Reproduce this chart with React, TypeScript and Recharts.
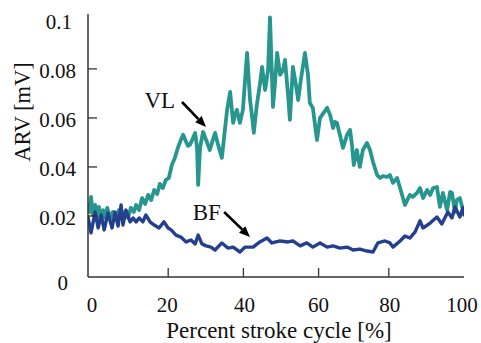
import React from 'react';
import { LineChart, Line, XAxis, YAxis, ReferenceLine, ReferenceDot, Label } from 'recharts';

// Percent stroke cycle positions and ARV values (mV) for VL
const vlCycle = [0, 0.5, 0.8, 1.3, 1.9, 2.4, 2.9, 3.5, 4.0, 4.5, 5.1, 5.9, 6.6, 7.4, 8.2, 9.0, 9.8, 10.6, 11.4, 12.2, 12.8, 13.6, 14.4, 15.2, 16.0, 16.8, 17.6, 18.4, 19.1, 19.9, 20.7, 21.5, 22.3, 23.1, 23.9, 24.7, 25.3, 26.1, 26.6, 27.1, 27.7, 28.5, 29.0, 29.3, 29.8, 30.6, 31.6, 32.4, 33.2, 33.8, 34.6, 35.6, 36.4, 37.0, 37.8, 38.6, 39.1, 39.6, 40.4, 41.2, 42.3, 43.1, 43.6, 44.1, 44.9, 45.7, 46.3, 47.1, 47.9, 48.4, 49.2, 49.7, 50.3, 51.1, 51.9, 52.4, 53.2, 53.7, 54.5, 55.3, 55.9, 56.6, 57.7, 58.5, 59.0, 59.8, 60.9, 61.7, 62.8, 63.6, 64.4, 65.2, 65.7, 66.2, 67.0, 67.8, 68.9, 69.7, 70.2, 70.7, 71.5, 72.3, 73.1, 74.2, 75.0, 75.8, 76.9, 77.7, 78.5, 79.5, 80.3, 81.1, 82.2, 83.0, 84.3, 85.6, 86.4, 87.5, 88.3, 89.1, 90.2, 91.0, 91.8, 92.8, 93.6, 94.4, 95.5, 96.3, 96.8, 97.6, 98.1, 98.9, 99.5, 100];
const vlArv = [0.0245, 0.0216, 0.0278, 0.0204, 0.0245, 0.0192, 0.0237, 0.0184, 0.0224, 0.0192, 0.0233, 0.0192, 0.0216, 0.0184, 0.0224, 0.0192, 0.0216, 0.0192, 0.0233, 0.0216, 0.0245, 0.0224, 0.0273, 0.0249, 0.0286, 0.0265, 0.0306, 0.029, 0.0331, 0.0314, 0.0347, 0.0355, 0.0408, 0.0437, 0.0478, 0.051, 0.0531, 0.0502, 0.0486, 0.049, 0.051, 0.0539, 0.0478, 0.0327, 0.0478, 0.0543, 0.0502, 0.0469, 0.051, 0.0539, 0.049, 0.0437, 0.0551, 0.0633, 0.0706, 0.058, 0.0612, 0.0633, 0.058, 0.0633, 0.0865, 0.0673, 0.061, 0.0539, 0.0653, 0.0735, 0.0808, 0.0714, 0.0796, 0.101, 0.0645, 0.0735, 0.0865, 0.0776, 0.0796, 0.0837, 0.0694, 0.0592, 0.0808, 0.0735, 0.0673, 0.0755, 0.0865, 0.0776, 0.0661, 0.0641, 0.051, 0.06, 0.0624, 0.0641, 0.0612, 0.0559, 0.0584, 0.058, 0.0531, 0.0478, 0.0531, 0.0551, 0.049, 0.0408, 0.0469, 0.04, 0.0469, 0.0498, 0.0469, 0.042, 0.0367, 0.0355, 0.0363, 0.0359, 0.0367, 0.0335, 0.0355, 0.0314, 0.0245, 0.0286, 0.0278, 0.0294, 0.0314, 0.0273, 0.0306, 0.0286, 0.0314, 0.0318, 0.0237, 0.0294, 0.0224, 0.0298, 0.0294, 0.0216, 0.0265, 0.0273, 0.0237, 0.0235];

// Percent stroke cycle positions and ARV values (mV) for BF
const bfCycle = [0, 0.8, 1.9, 2.7, 3.5, 4.3, 5.3, 6.4, 7.2, 8.0, 8.8, 9.3, 10.1, 11.2, 12.0, 12.8, 13.6, 14.6, 15.4, 16.5, 17.6, 18.9, 20.2, 21.3, 22.1, 23.4, 24.7, 26.1, 27.4, 28.5, 29.3, 30.3, 31.4, 32.7, 33.8, 35.6, 37.2, 38.6, 40.4, 41.8, 43.9, 45.7, 47.6, 48.9, 51.1, 53.2, 54.5, 56.4, 58.2, 59.8, 61.7, 63.6, 65.2, 67.0, 68.9, 70.5, 72.3, 74.2, 75.8, 77.1, 79.0, 80.3, 81.1, 83.0, 84.3, 85.6, 87.0, 88.3, 89.1, 91.0, 92.8, 94.1, 95.7, 96.8, 97.6, 98.9, 99.7, 100];
const bfArv = [0.0196, 0.0131, 0.0216, 0.0151, 0.0204, 0.0143, 0.0212, 0.0151, 0.0216, 0.0159, 0.0245, 0.0163, 0.0224, 0.0176, 0.0192, 0.0176, 0.0192, 0.0176, 0.0204, 0.0176, 0.0163, 0.0151, 0.0176, 0.0151, 0.0143, 0.0122, 0.0114, 0.0094, 0.0102, 0.0086, 0.0122, 0.0086, 0.0078, 0.0073, 0.0061, 0.009, 0.0069, 0.0073, 0.0053, 0.0073, 0.0073, 0.0094, 0.011, 0.009, 0.0098, 0.0094, 0.0098, 0.0078, 0.009, 0.0073, 0.009, 0.0073, 0.0078, 0.0069, 0.0073, 0.0061, 0.0065, 0.0057, 0.0053, 0.009, 0.0098, 0.009, 0.0073, 0.0098, 0.0118, 0.011, 0.0135, 0.018, 0.0151, 0.0171, 0.0196, 0.0167, 0.0216, 0.0192, 0.0237, 0.0196, 0.0233, 0.0204];

const xTicks = [0, 20, 40, 60, 80, 100];
const yTicks = [0, 0.02, 0.04, 0.06, 0.08, 0.1];
const yTickLabels = ['0', '0.02', '0.04', '0.06', '0.08', '0.1'];

const vlData = vlCycle.map((c, i) => ({ cycle: c, arv: vlArv[i] }));
const bfData = bfCycle.map((c, i) => ({ cycle: c, arv: bfArv[i] }));

const FONT = '"Liberation Serif", "Times New Roman", serif';
const AXIS_COLOR = '#333';

// small per-tick nudges so labels/marks sit where the original figure placed them
const xLabelNudge: Record<number, number> = { 0: 4, 20: 4, 40: 6, 60: 5, 80: 1, 100: -2 };
const xMarkNudge: Record<number, number> = { 0: 0, 20: 5, 40: 5, 60: 5, 80: 0, 100: 0 };

const YTick = (props: any) => {
  const { x, y, payload } = props;
  const v = payload.value;
  const idx = yTicks.indexOf(v);
  const label = idx >= 0 ? yTickLabels[idx] : String(v);
  const axisX = x + 12;
  const isEnd = v === 0 || v === 0.1;
  const dy = v === 0 ? 18 : 2;
  const dx = v === 0 ? -8 : v === 0.1 ? -4 : 0;
  return (
    <g>
      {!isEnd && <line x1={axisX} x2={axisX + 9} y1={y} y2={y} stroke={AXIS_COLOR} strokeWidth={1.3} />}
      <text x={x + dx} y={y + dy} textAnchor="end" dominantBaseline="central" fontFamily={FONT} fontSize={21} fill="#111">
        {label}
      </text>
    </g>
  );
};

const XTick = (props: any) => {
  const { x, y, payload } = props;
  const v = payload.value;
  const axisY = y - 28;
  const isEnd = v === 0 || v === 100;
  const ln = xLabelNudge[v] ?? 0;
  const mn = xMarkNudge[v] ?? 0;
  return (
    <g>
      {!isEnd && <line x1={x + mn} x2={x + mn} y1={axisY} y2={axisY - 9} stroke={AXIS_COLOR} strokeWidth={1.3} />}
      <text x={x + ln} y={y} textAnchor="middle" dominantBaseline="central" fontFamily={FONT} fontSize={21} fill="#111">
        {String(v)}
      </text>
    </g>
  );
};

const Arrow = (p: any) => {
  const { x1, y1, x2, y2 } = p;
  const ang = Math.atan2(y2 - y1, x2 - x1);
  const len = 11;
  const w = 4.5;
  const bx = x2 - len * Math.cos(ang);
  const by = y2 - len * Math.sin(ang);
  const px = -Math.sin(ang) * w;
  const py = Math.cos(ang) * w;
  return (
    <g>
      <line x1={x1} y1={y1} x2={bx} y2={by} stroke="#000" strokeWidth={2.6} />
      <polygon points={`${x2},${y2} ${bx + px},${by + py} ${bx - px},${by - py}`} fill="#000" />
    </g>
  );
};

const annoText = (txt: string) => (p: any) => (
  <text x={p.cx} y={p.cy} textAnchor="middle" dominantBaseline="central" fontFamily={FONT} fontSize={23} fill="#111">
    {txt}
  </text>
);

export default function App() {
  return (
    <div style={{ position: 'absolute', left: 0, top: 0, background: '#fff' }}>
      <LineChart width={481} height={343} margin={{ top: 14, right: 17, bottom: 0, left: 0 }}>
        <XAxis
          xAxisId="main"
          dataKey="cycle"
          type="number"
          domain={[0, 100]}
          ticks={xTicks}
          allowDataOverflow
          height={66}
          tickSize={0}
          tickMargin={28}
          tickLine={false}
          axisLine={{ stroke: AXIS_COLOR, strokeWidth: 1.5 }}
          tick={<XTick />}
          interval={0}
        >
          <Label
            content={(lp: any) => {
              const vb = lp.viewBox;
              return (
                <text x={vb.x + vb.width / 2 + 3} y={330} textAnchor="middle" dominantBaseline="central" fontFamily={FONT} fontSize={23} fill="#111">
                  Percent stroke cycle [%]
                </text>
              );
            }}
          />
        </XAxis>
        <XAxis xAxisId="top" orientation="top" type="number" domain={[0, 100]} height={0} tick={false} tickLine={false} axisLine={{ stroke: '#666', strokeWidth: 1.5 }} />
        <YAxis
          yAxisId="main"
          type="number"
          domain={[-0.0049, 0.1024]}
          ticks={yTicks}
          allowDataOverflow
          width={88}
          tickSize={0}
          tickMargin={12}
          tickLine={false}
          axisLine={{ stroke: AXIS_COLOR, strokeWidth: 1.5 }}
          tick={<YTick />}
          interval={0}
        >
          <Label
            content={() => (
              <text x={22} y={112} transform="rotate(-90 22 112)" textAnchor="middle" dominantBaseline="central" fontFamily={FONT} fontSize={22.5} fill="#111">
                ARV [mV]
              </text>
            )}
          />
        </YAxis>
        <YAxis yAxisId="right" orientation="right" type="number" domain={[0, 1]} width={0} tick={false} tickLine={false} axisLine={{ stroke: '#666', strokeWidth: 1.5 }} />
        <Line
          xAxisId="main"
          yAxisId="main"
          data={vlData}
          dataKey="arv"
          type="linear"
          stroke="#27968f"
          strokeWidth={3.8}
          strokeLinejoin="round"
          strokeLinecap="round"
          dot={false}
          isAnimationActive={false}
        />
        <Line
          xAxisId="main"
          yAxisId="main"
          data={bfData}
          dataKey="arv"
          type="linear"
          stroke="#243f8e"
          strokeWidth={3.4}
          strokeLinejoin="round"
          strokeLinecap="round"
          dot={false}
          isAnimationActive={false}
        />
        <ReferenceLine xAxisId="main" yAxisId="main" segment={[{ x: 25.0, y: 0.0665 }, { x: 31.4, y: 0.0563 }]} ifOverflow="visible" shape={Arrow} />
        <ReferenceLine xAxisId="main" yAxisId="main" segment={[{ x: 36.2, y: 0.0216 }, { x: 43.1, y: 0.0114 }]} ifOverflow="visible" shape={Arrow} />
        <ReferenceDot xAxisId="main" yAxisId="main" x={19.1} y={0.0673} r={0} ifOverflow="visible" shape={annoText('VL')} />
        <ReferenceDot xAxisId="main" yAxisId="main" x={31.6} y={0.0216} r={0} ifOverflow="visible" shape={annoText('BF')} />
      </LineChart>
    </div>
  );
}
